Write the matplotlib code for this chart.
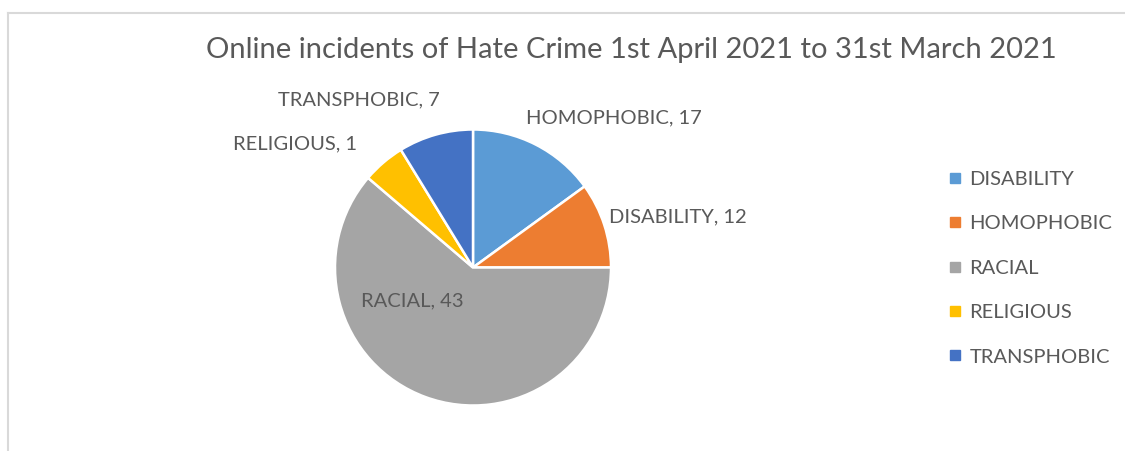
import matplotlib.pyplot as plt
from matplotlib.lines import Line2D

W, H = 1125, 451

categories = ["DISABILITY", "HOMOPHOBIC", "RACIAL", "RELIGIOUS", "TRANSPHOBIC"]
# slice sizes as they are drawn in the picture
slice_values = [12, 8, 49, 4, 7]
# data label texts as printed on the chart
label_texts = ["HOMOPHOBIC, 17", "DISABILITY, 12", "RACIAL, 43", "RELIGIOUS, 1", "TRANSPHOBIC, 7"]
colors = ["#5B9BD5", "#ED7D31", "#A5A5A5", "#FFC000", "#4472C4"]

# label positions in pixels (centre x, centre y from top)
label_pos = [(614, 118), (678, 217), (412, 301), (295, 144), (359, 100)]

txt = "#595959"
plt.rcParams['font.family'] = ['Lato', 'DejaVu Sans']

fig = plt.figure(figsize=(W / 100, H / 100), dpi=100)
fig.patch.set_facecolor("white")

# chart border (left and top visible)
fig.add_artist(Line2D([7.5 / W, 7.5 / W], [0, 1 - 12.5 / H], color="#D9D9D9", lw=1.5))
fig.add_artist(Line2D([7.5 / W, 1], [1 - 12.5 / H, 1 - 12.5 / H], color="#D9D9D9", lw=1.5))

cx, cy, r = 473, 267.5, 138
ax = fig.add_axes([(cx - r) / W, (H - cy - r) / H, 2 * r / W, 2 * r / H])
wedges, _ = ax.pie(slice_values, colors=colors, startangle=90, counterclock=False,
                   wedgeprops=dict(edgecolor="white", linewidth=1.8))
ax.set_xlim(-1, 1)
ax.set_ylim(-1, 1)
ax.axis("off")

for t, (x, y) in zip(label_texts, label_pos):
    fig.text(x / W, 1 - y / H, t, ha="center", va="center", fontsize=14.5, color=txt)

fig.text(631 / W, 1 - 50 / H, "Online incidents of Hate Crime 1st April 2021 to 31st March 2021",
         ha="center", va="center", fontsize=21, color=txt)

handles = [Line2D([], [], ls="", marker="s", markersize=7, color=c) for c in colors]
leg = fig.legend(handles, categories, loc="center left", bbox_to_anchor=(931 / W, 1 - 268 / H),
                 frameon=False, fontsize=14.5, labelspacing=1.36, handlelength=0.6,
                 handletextpad=0.4, labelcolor=txt)

fig.savefig("out.png", dpi=100)
